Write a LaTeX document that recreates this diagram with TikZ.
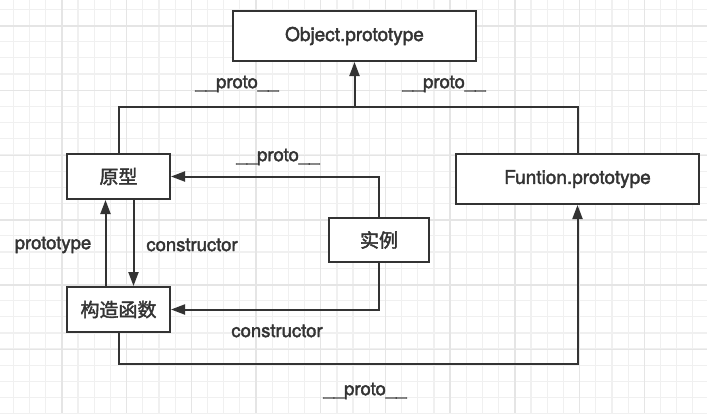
\documentclass[tikz,border=0pt]{standalone}
\usepackage{fontspec}
\setmainfont{TeX Gyre Heros}[UprightFeatures={FakeBold=2}]
\newfontfamily\cjk{Noto Sans CJK SC}[UprightFeatures={FakeBold=2}]
\usetikzlibrary{arrows.meta}
\usetikzlibrary{positioning}
\definecolor{ink}{HTML}{333333}
\definecolor{gridminor}{HTML}{F0F0F0}
\definecolor{gridmajor}{HTML}{E5E5E5}
\tikzset{box/.style = {draw=ink, line width=2pt, fill=white, text=ink,
                       inner sep=0pt, font=\fontsize{19}{22}\selectfont},
         link/.style = {draw=ink, line width=2pt},
         tolink/.style = {link, -{Triangle[length=14pt,width=10pt]}},
         lbl/.style = {text=ink, inner sep=0pt, font=\fontsize{18.5}{22}\selectfont}}

\begin{document}
\begin{tikzpicture}[x=1pt, y=-1pt]
      \useasboundingbox (0,0) rectangle (707,413);
      \fill [white] (0,0) rectangle (707,413);
      % grid paper
      \foreach \i in {0,...,43} {
        \draw [gridminor, line width=1.2pt] (13.3+16.18*\i, 0) -- (13.3+16.18*\i, 413);
      }
      \foreach \j in {0,...,25} {
        \draw [gridminor, line width=1.2pt] (0, 9.3+16.18*\j) -- (707, 9.3+16.18*\j);
      }
      \foreach \i in {0,...,10} {
        \draw [gridmajor, line width=1.4pt] (-2.9+64.72*\i, 0) -- (-2.9+64.72*\i, 413);
      }
      \foreach \j in {0,...,6} {
        \draw [gridmajor, line width=1.4pt] (0, 26+64.72*\j) -- (707, 26+64.72*\j);
      }

      \node [box, minimum width=243pt, minimum height=50pt] (object) at (354.5, 36) {Object.prototype};
      \node [box, minimum width=243pt, minimum height=50pt] (func) at (577.5, 179) {Funtion.prototype};
      \node [box, minimum width=103pt, minimum height=45pt] (proto) at (118.5, 176.5) {\cjk 原型};
      \node [box, minimum width=103pt, minimum height=45pt] (ctor) at (118.5, 309.5) {\cjk 构造函数};
      \node [box, minimum width=100pt, minimum height=44pt] (inst) at (379, 240) {\cjk 实例};

      \coordinate (topright) at (func.north |- 0, 107);
      \coordinate (bottomright) at (func.south |- 0, 364);

      \draw [link] (proto.north) |- (topright) -- (func.north);
      \draw [tolink] (object.south |- topright) -- (object.south);
      \draw [tolink] ([xshift=-13pt]ctor.north) -- ([xshift=-13pt]proto.south);
      \draw [tolink] ([xshift=15pt]proto.south) -- ([xshift=15pt]ctor.north);
      \draw [tolink] (inst.north) |- (proto.east);
      \draw [tolink] (inst.south) |- (ctor.east);
      \draw [tolink] (ctor.south) |- (bottomright) -- (func.south);

      \node [lbl] (protoleft) at (237, 84) {\_\_proto\_\_};
      \node [lbl] (protoright) at (444, 84) {\_\_proto\_\_};
      \node [lbl] (protoinst) at (278, 157) {\_\_proto\_\_};
      \node [lbl] (prototype) at (53, 245) {prototype};
      \node [lbl] (ctorup) at (192, 245) {constructor};
      \node [lbl] (ctorinst) at (277, 331) {constructor};
      \node [lbl] (protobottom) at (365, 391) {\_\_proto\_\_};
    \end{tikzpicture}
\end{document}
